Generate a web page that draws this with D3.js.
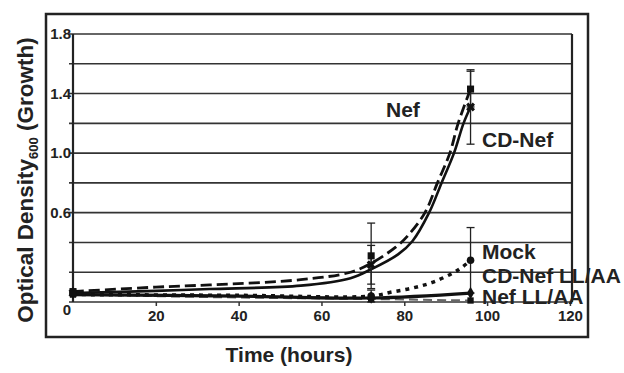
<!DOCTYPE html>
<html>
<head>
<meta charset="utf-8">
<script src="https://cdn.jsdelivr.net/npm/d3@7"></script>
<style>
  body { margin: 0; background: #fff; }
  text { font-family: "Liberation Sans", Arial, sans-serif; font-weight: bold; fill: #222; }
</style>
</head>
<body>
<div id="chart"></div>
<script>
// Sampling times of the markers (hours)
var times = [0, 72, 96];

// Marker values per strain
var nefVals = [0.07, 0.31, 1.43];
var cdNefVals = [0.06, 0.25, 1.31];
var mockVals = [0.06, 0.04, 0.28];
var cdNefLLVals = [0.05, 0.02, 0.01];
var nefLLVals = [0.06, 0.03, 0.06];

// Error bar half widths
var nefErr = [0, 0.22, 0.12];
var cdNefErr = [0, 0.13, 0.25];
var mockErr = [0, 0.04, 0.22];

// Fitted curves: [hours, OD]
var nefCurve = [[0, 0.07], [20, 0.10], [33, 0.115], [55, 0.15], [67, 0.20], [72, 0.26], [78, 0.37],
  [81, 0.45], [85, 0.6], [88, 0.8], [91, 1.0], [93, 1.2], [96, 1.43]];
var cdNefCurve = [[0, 0.06], [20, 0.075], [33, 0.087], [55, 0.11], [67, 0.16], [72, 0.22], [78.5, 0.32],
  [82, 0.41], [86, 0.6], [89, 0.8], [92, 1.0], [94.3, 1.2], [96, 1.31]];
var mockCurve = [[0, 0.05], [40, 0.045], [72, 0.04], [77, 0.067], [82, 0.094], [87, 0.134], [93, 0.215], [96, 0.28]];
var cdNefLLCurve = [[0, 0.05], [40, 0.03], [72, 0.02], [96, 0.01]];
var nefLLCurve = [[0, 0.05], [40, 0.04], [72, 0.027], [96, 0.06]];

// Axis ticks
var yTicks = [0, 0.2, 0.4, 0.6, 0.8, 1.0, 1.2, 1.4, 1.6, 1.8];
var yLabels = [0.6, 1.0, 1.4, 1.8];
var xTicks = [20, 40, 60, 80, 100, 120];

var svgWidth = 624;
var svgHeight = 373;

var svg = d3.select("#chart")
  .append("svg")
  .attr("width", svgWidth)
  .attr("height", svgHeight);

// Outer frame
svg.append("rect")
  .attr("x", 46).attr("y", 14)
  .attr("width", 542).attr("height", 323)
  .attr("fill", "none")
  .attr("stroke", "#222")
  .attr("stroke-width", 2.5);

var xScale = d3.scaleLinear().domain([0, 120.5]).range([73, 572]);
var yScale = d3.scaleLinear().domain([0, 1.8]).range([302, 34]);

// Gridlines
svg.append("g")
  .selectAll("line")
  .data(yTicks)
  .enter()
  .append("line")
  .attr("x1", xScale(0) - 4)
  .attr("x2", xScale(120.5))
  .attr("y1", d => yScale(d))
  .attr("y2", d => yScale(d))
  .attr("stroke", "#333")
  .attr("stroke-width", 1.6);

// Left and right edges of the plot
svg.append("line")
  .attr("x1", xScale(0)).attr("x2", xScale(0))
  .attr("y1", yScale(1.8)).attr("y2", yScale(0))
  .attr("stroke", "#222").attr("stroke-width", 2.2);
svg.append("line")
  .attr("x1", xScale(120.5)).attr("x2", xScale(120.5))
  .attr("y1", yScale(1.8)).attr("y2", yScale(0))
  .attr("stroke", "#222").attr("stroke-width", 2.2);

// Y tick labels
svg.append("g")
  .selectAll("text")
  .data(yLabels)
  .enter()
  .append("text")
  .attr("x", xScale(0) - 2)
  .attr("y", d => yScale(d) + 5)
  .attr("text-anchor", "end")
  .attr("font-size", 15)
  .text(d => d.toFixed(1));

// X axis ticks and labels
var bottomAxis = d3.axisBottom(xScale)
  .tickValues(xTicks)
  .tickSize(4)
  .tickPadding(4)
  .tickFormat(d3.format("d"));
var xAxisGroup = svg.append("g")
  .attr("transform", "translate(0," + yScale(0) + ")")
  .call(bottomAxis);
xAxisGroup.select(".domain").remove();
xAxisGroup.selectAll("line").attr("stroke", "#333").attr("stroke-width", 1.5);
xAxisGroup.selectAll("text")
  .attr("font-size", 15)
  .attr("font-family", "Liberation Sans, Arial, sans-serif")
  .attr("font-weight", "bold")
  .attr("fill", "#222");

// Origin label
svg.append("text")
  .attr("x", xScale(0) - 6)
  .attr("y", yScale(0) + 13)
  .attr("text-anchor", "middle")
  .attr("font-size", 15)
  .text("0");

// Axis titles
svg.append("text")
  .attr("x", 289)
  .attr("y", 362)
  .attr("text-anchor", "middle")
  .attr("font-size", 21)
  .text("Time (hours)");

var yTitle = svg.append("text")
  .attr("transform", "translate(33,180) rotate(-90)")
  .attr("text-anchor", "middle")
  .attr("font-size", 22.5);
yTitle.append("tspan").text("Optical Density");
yTitle.append("tspan").attr("font-size", 13).attr("dy", 5).text("600");
yTitle.append("tspan").attr("dy", -5).text(" (Growth)");

// Curves
var line = d3.line()
  .x(d => xScale(d[0]))
  .y(d => yScale(d[1]))
  .curve(d3.curveCatmullRom.alpha(0.5));

var curves = [
  { pts: cdNefLLCurve, dash: "9,5", width: 2, color: "#666" },
  { pts: nefLLCurve, dash: null, width: 3.2, color: "#111" },
  { pts: mockCurve, dash: "4,5", width: 3.5, color: "#111" },
  { pts: cdNefCurve, dash: null, width: 2.6, color: "#111" },
  { pts: nefCurve, dash: "11,5", width: 2.8, color: "#111" }
];

curves.forEach(function(c) {
  svg.append("path")
    .attr("d", line(c.pts))
    .attr("fill", "none")
    .attr("stroke", c.color)
    .attr("stroke-width", c.width)
    .attr("stroke-dasharray", c.dash);
});

// Error bars
var errSeries = [
  { vals: nefVals, err: nefErr },
  { vals: cdNefVals, err: cdNefErr },
  { vals: mockVals, err: mockErr }
];
errSeries.forEach(function(s) {
  times.forEach(function(t, i) {
    if (s.err[i] === 0) return;
    var lo = s.vals[i] - s.err[i];
    var hi = s.vals[i] + s.err[i];
    var g = svg.append("g").attr("stroke", "#222").attr("stroke-width", 1.3);
    g.append("line")
      .attr("x1", xScale(t)).attr("x2", xScale(t))
      .attr("y1", yScale(lo)).attr("y2", yScale(hi));
    [lo, hi].forEach(function(v) {
      g.append("line")
        .attr("x1", xScale(t) - 4).attr("x2", xScale(t) + 4)
        .attr("y1", yScale(v)).attr("y2", yScale(v));
    });
  });
});

// Markers
var markerSeries = [
  { vals: cdNefLLVals, type: d3.symbolSquare, size: 40 },
  { vals: nefLLVals, type: d3.symbolDiamond, size: 45 },
  { vals: mockVals, type: d3.symbolCircle, size: 45 },
  { vals: nefVals, type: d3.symbolSquare, size: 50 },
  { vals: cdNefVals, type: d3.symbolCross, size: 50, rotate: 45 }
];
markerSeries.forEach(function(s) {
  svg.append("g")
    .selectAll("path")
    .data(s.vals)
    .enter()
    .append("path")
    .attr("d", d3.symbol().type(s.type).size(s.size))
    .attr("transform", (d, i) => "translate(" + xScale(times[i]) + "," + yScale(d) + ") rotate(" + (s.rotate || 0) + ")")
    .attr("fill", "#111");
});

// Series labels
var seriesLabels = [
  { text: "Nef", x: 386, y: 117 },
  { text: "CD-Nef", x: 482, y: 147 },
  { text: "Mock", x: 482, y: 259 },
  { text: "CD-Nef LL/AA", x: 482, y: 283 },
  { text: "Nef LL/AA", x: 482, y: 304 }
];
svg.append("g")
  .selectAll("text")
  .data(seriesLabels)
  .enter()
  .append("text")
  .attr("x", d => d.x)
  .attr("y", d => d.y)
  .attr("font-size", 21)
  .text(d => d.text);
</script>
</body>
</html>
